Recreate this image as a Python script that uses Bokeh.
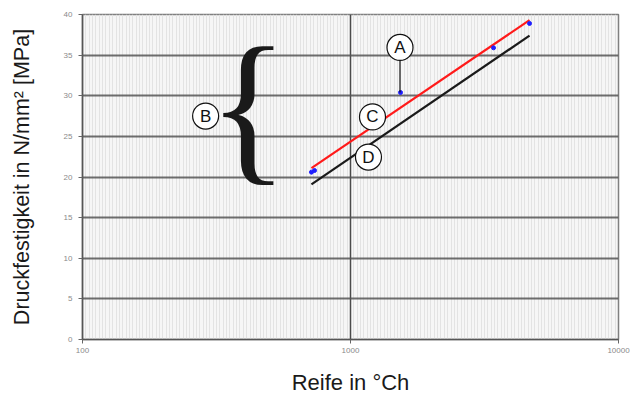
import numpy as np
from bokeh.plotting import figure
from bokeh.models import FixedTicker, BasicTickFormatter
from bokeh.core.properties import value
from bokeh.embed import file_html
from bokeh.resources import INLINE

# ---- data ----
reife = [715, 734, 1537, 3417, 4656]
festigkeit = [20.6, 20.8, 30.4, 35.9, 38.9]

red_x = [715, 4656]
red_y = [21.1, 39.3]
black_x = [715, 4656]
black_y = [19.1, 37.4]

x_ticks = [100, 1000, 10000]
x_tick_labels = ["100", "1000", "10000"]
y_ticks = [0, 5, 10, 15, 20, 25, 30, 35, 40]

marker_letters = ["A", "B", "C", "D"]
marker_x = [1530, 288, 1208, 1167]
marker_y = [35.95, 27.5, 27.4, 22.45]

leader_x = [1530, 1530]
leader_y = [34.4, 30.4]

brace_x = [416]
brace_y = [28.8]

# minor vertical texture lines (log-uniform)
minor_x = [10 ** (2 + k / 80) for k in range(1, 160) if k % 80 != 0]

p = figure(width=630, height=397, x_axis_type="log",
           x_range=(100, 10000), y_range=(0, 40),
           output_backend="svg", toolbar_location=None,
           min_border_left=82, min_border_right=12,
           min_border_top=14, min_border_bottom=57)

p.background_fill_color = "#f6f6f6"
p.border_fill_color = "white"
p.outline_line_color = "#808080"
p.outline_line_width = 1.5

p.xgrid.ticker = FixedTicker(ticks=x_ticks, minor_ticks=minor_x)
p.xgrid.grid_line_color = "#4a4a4a"
p.xgrid.grid_line_width = 1.5
p.xgrid.minor_grid_line_color = "#e3e3e3"
p.xgrid.minor_grid_line_width = 1

p.ygrid.ticker = FixedTicker(ticks=y_ticks)
p.ygrid.grid_line_color = "#555555"
p.ygrid.grid_line_width = 2
p.ygrid.grid_line_alpha = 0.85

p.xaxis.ticker = FixedTicker(ticks=x_ticks)
p.xaxis.formatter = BasicTickFormatter(use_scientific=False)
p.xaxis.major_label_overrides = {t: l for t, l in zip(x_ticks, x_tick_labels)}
p.yaxis.ticker = FixedTicker(ticks=y_ticks)

for ax in (p.xaxis[0], p.yaxis[0]):
    ax.axis_line_color = "#555555"
    ax.axis_line_width = 1.5
    ax.major_tick_line_color = "#666666"
    ax.major_tick_out = 4
    ax.major_tick_in = 0
    ax.minor_tick_line_color = None
    ax.major_label_text_font = "Liberation Sans"
    ax.major_label_text_font_size = "8px"
    ax.major_label_text_color = "#8a8a8a"
    ax.axis_label_text_font = "Liberation Sans"
    ax.axis_label_text_font_style = "normal"
    ax.axis_label_text_color = "#1a1a1a"

p.xaxis.major_label_standoff = 4
p.yaxis.major_label_standoff = 6

p.xaxis.axis_label = "Reife in °Ch"
p.xaxis.axis_label_text_font_size = "22px"
p.xaxis.axis_label_standoff = 14

p.yaxis.axis_label = "Druckfestigkeit in N/mm² [MPa]"
p.yaxis.axis_label_text_font_size = "21.5px"
p.yaxis.axis_label_standoff = 27

# lines
p.line(red_x, red_y, line_color="#ff1a1a", line_width=2.2)
p.line(black_x, black_y, line_color="#1a1a1a", line_width=2.2)
p.scatter(reife, festigkeit, size=4, color="#2020ff")

# annotations
p.line(leader_x, leader_y, line_color="#111111", line_width=1.2)
p.scatter(marker_x, marker_y, size=26, fill_color="white",
          line_color="#111111", line_width=1.2)
p.text(marker_x, marker_y, text=marker_letters, text_align="center",
       text_baseline="middle", text_font=value("Liberation Sans"),
       text_font_size="17px", text_color="#111111")
p.text(brace_x, brace_y, text=["{"], text_align="center",
       text_baseline="middle", text_font=value("Liberation Serif"),
       text_font_size="168px", text_color="#1a1a1a")

open("out.html", "w").write(file_html(p, INLINE))
